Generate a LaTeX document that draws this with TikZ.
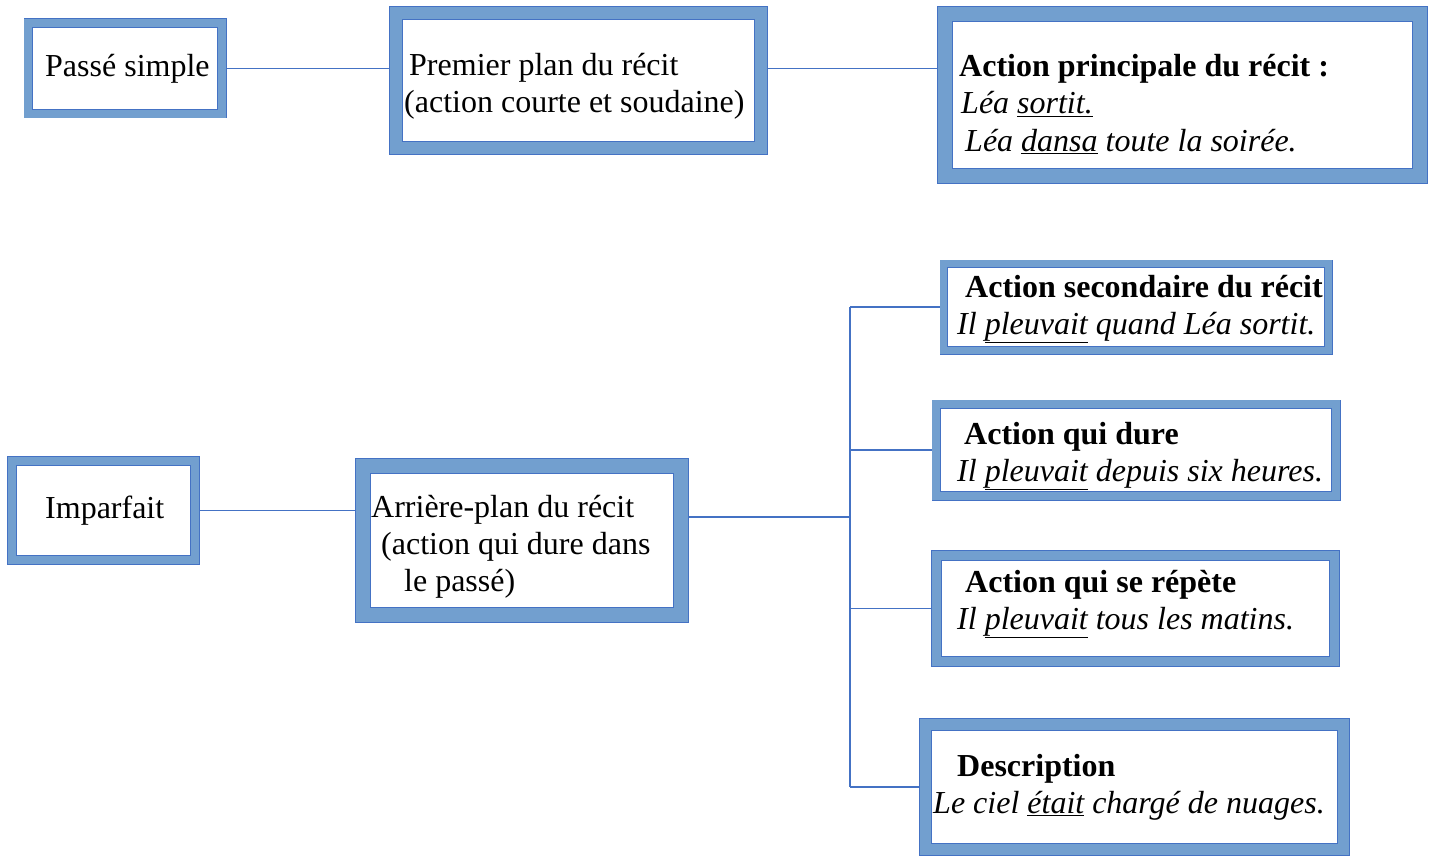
\documentclass[tikz,border=0pt]{standalone}
\usepackage{fontspec}
\setmainfont{Liberation Serif}
\definecolor{boxblue}{RGB}{114,159,207}
\definecolor{edgeblue}{RGB}{68,114,196}
\tikzset{
  frame/.style={rectangle, draw=edgeblue, line width=0.8pt, double=boxblue,
    double distance=#1pt-1.6pt, fill=white, outer sep=#1*0.5pt},
  txt/.style={font=\fontsize{32}{37}\selectfont, anchor=base west, align=left, inner sep=0pt},
  link/.style={draw=edgeblue, line width=1.2pt}
}

\begin{document}
\begin{tikzpicture}[x=1pt, y=-1pt]
\useasboundingbox (0,0) rectangle (1435,856);

\node (ps) at (125, 68.5) [frame=9.5, minimum width=193.5, minimum height=90.5] {};
\node (pp) at (578.5, 80.5) [frame=14, minimum width=365, minimum height=135] {};
\node (ap) at (1182.5, 95) [frame=16, minimum width=475, minimum height=162] {};
\node (imp) at (103.5, 510.5) [frame=10, minimum width=183, minimum height=99] {};
\node (arr) at (522, 540.5) [frame=16, minimum width=318, minimum height=149] {};
\node (sec) at (1136, 307) [frame=8.5, minimum width=384.5, minimum height=86.5] {};
\node (dure) at (1136, 450) [frame=9.5, minimum width=399.5, minimum height=91.5] {};
\node (rep) at (1135.5, 608.5) [frame=11, minimum width=398, minimum height=106] {};
\node (desc) at (1134.5, 787) [frame=13, minimum width=418, minimum height=125] {};

\node (ps-t) at (45, 77) [txt] {Passé simple};
\node (pp-t) at (404, 113) [txt] {\hspace*{5pt}Premier plan du récit\\(action courte et soudaine)};
\node (ap-t) at (959, 151) [txt] {\textbf{Action principale du récit :}\\
  \hspace*{2pt}\textit{Léa \underline{sortit.}}\\
  \hspace*{6pt}\textit{Léa \underline{dansa} toute la soirée.}};
\node (imp-t) at (45, 518) [txt] {Imparfait};
\node (arr-t) at (371, 591) [txt] {Arrière-plan du récit\\\hspace*{10pt}(action qui dure dans\\\hspace*{33pt}le passé)};
\node (sec-t) at (957, 334) [txt] {\hspace*{8pt}\textbf{Action secondaire du récit}\\\textit{Il \underline{pleuvait} quand Léa sortit.}};
\node (dure-t) at (957, 481) [txt] {\hspace*{7pt}\textbf{Action qui dure}\\\textit{Il \underline{pleuvait} depuis six heures.}};
\node (rep-t) at (957, 629) [txt] {\hspace*{8pt}\textbf{Action qui se répète}\\\textit{Il \underline{pleuvait} tous les matins.}};
\node (desc-t) at (933, 813) [txt] {\hspace*{24pt}\textbf{Description}\\\textit{Le ciel \underline{était} chargé de nuages.}};

\coordinate (hub) at (850, 517);

\draw [link] (ps.east) -- (ps.east -| pp.west);
\draw [link] (ps.east -| pp.east) -- (ps.east -| ap.west);
\draw [link] (imp.east) -- (imp.east -| arr.west);
\draw [link] (hub -| arr.east) -- (hub);
\draw [link] (hub |- sec.west) -- (hub |- desc.west);
\draw [link] (hub |- sec.west) -- (sec.west);
\draw [link] (hub |- dure.west) -- (dure.west);
\draw [link] (hub |- rep.west) -- (rep.west);
\draw [link] (hub |- desc.west) -- (desc.west);
\end{tikzpicture}
\end{document}
